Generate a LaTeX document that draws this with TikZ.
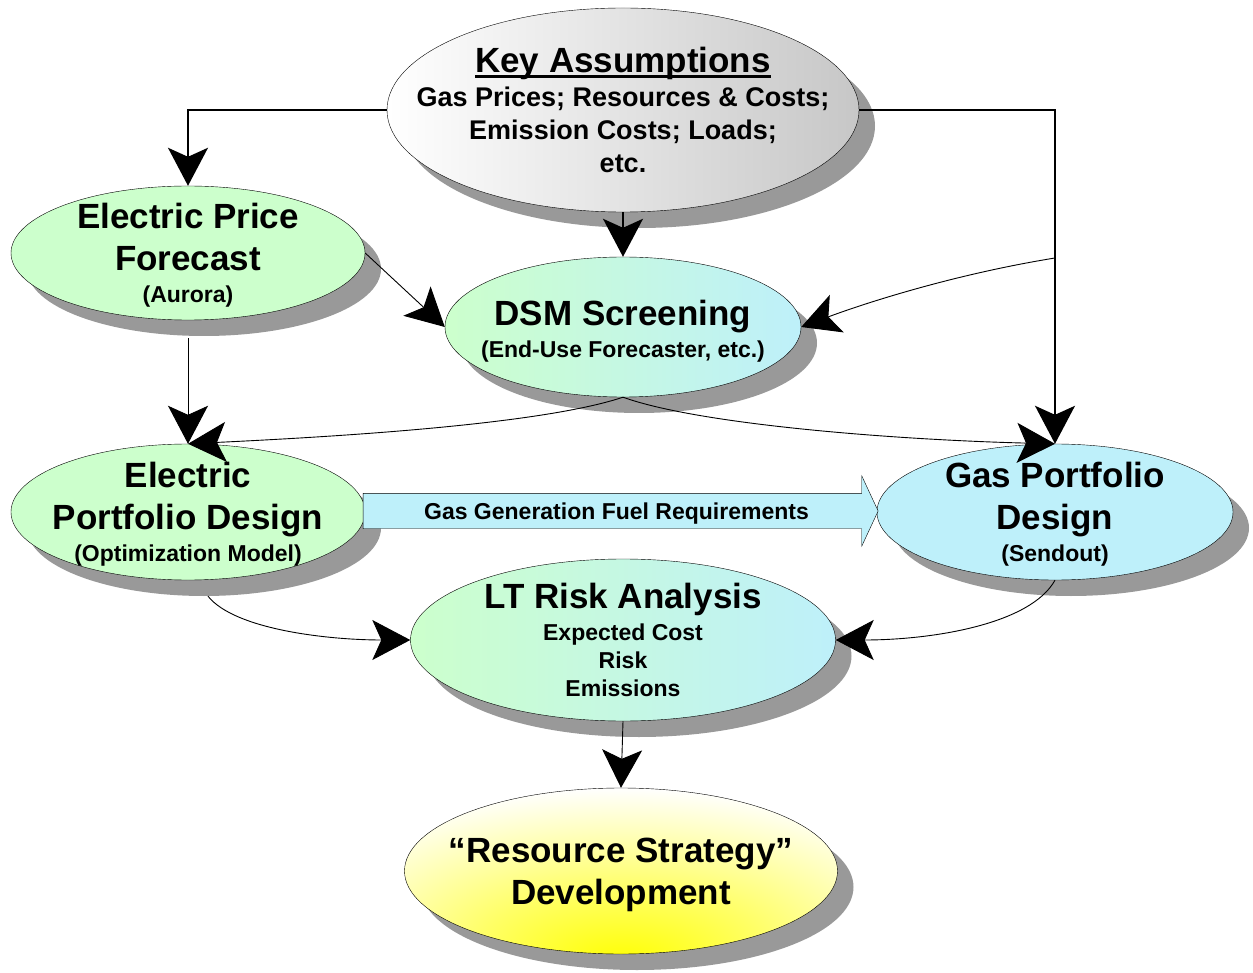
\documentclass[tikz,border=0pt]{standalone}
\usepackage{fontspec}
\setmainfont{Liberation Sans}
\usetikzlibrary{shapes.geometric,shapes.arrows,shadows,arrows.meta}

\definecolor{elgreen}{RGB}{204,255,204}
\definecolor{gascyan}{RGB}{190,240,250}
\newcommand{\bigtxt}{\fontsize{35}{42}\selectfont}
\newcommand{\smalltxt}{\fontsize{23}{28}\selectfont}
\newcommand{\midtxt}{\fontsize{27}{33}\selectfont}
% invisible strut to push a text block down
\newcommand{\topstrut}[1]{\rule{0pt}{#1}}
\newcommand{\keyline}[1]{\sbox0{#1}\rlap{\rule[-5pt]{\wd0}{2.5pt}}\usebox0}
\pgfdeclareradialshading{glow}{\pgfpoint{0bp}{-28bp}}{color(0bp)=(yellow);color(16bp)=(yellow!60!white);color(38bp)=(white);color(70bp)=(white)}

\tikzset{
  oval/.style={ellipse, draw, thin, inner sep=-150pt, align=center, font=\bfseries\bigtxt,
    general shadow={shadow xshift=16pt, shadow yshift=-16pt, fill=black!40}},
  bigtip/.style={-{Stealth[length=38pt,width=40pt,inset=9pt]}},
  elbow/.style={bigtip, line width=1.5pt},
  feed/.style={bigtip, line width=0.9pt}
}

\begin{document}
\begin{tikzpicture}[x=1pt, y=-1pt]
\useasboundingbox (0,0) rectangle (1253,973);
\node[oval, minimum width=472pt, minimum height=204pt, left color=white, right color=black!22, font=\bfseries\midtxt] (KeyA) at (623,110)
  {{\bigtxt\keyline{Key Assumptions}}\\[1pt] Gas Prices; Resources \& Costs;\\ Emission Costs; Loads;\\ etc.};
\node[oval, minimum width=354pt, minimum height=134pt, fill=elgreen] (EPF) at (188,253)
  {\topstrut{30pt}Electric Price\\ Forecast\\[-10.5pt] {\smalltxt (Aurora)}};
\node[oval, minimum width=356pt, minimum height=140pt, left color=elgreen, right color=gascyan] (DSM) at (623,327)
  {\topstrut{34pt}DSM Screening\\[-10.5pt] {\smalltxt (End-Use Forecaster, etc.)}};
\node[oval, minimum width=354pt, minimum height=136pt, fill=elgreen] (EPD) at (188,512)
  {\topstrut{30pt}Electric\\ Portfolio Design\\[-10.5pt] {\smalltxt (Optimization Model)}};
\node[oval, minimum width=356pt, minimum height=136pt, fill=gascyan] (GPD) at (1055,512)
  {\topstrut{30pt}Gas Portfolio\\ Design\\[-10.5pt] {\smalltxt (Sendout)}};
\node[oval, minimum width=425pt, minimum height=162pt, left color=elgreen, right color=gascyan] (LTR) at (623,640)
  {LT Risk Analysis\\[-10.5pt] {\smalltxt Expected Cost}\\[-14pt] {\smalltxt Risk}\\[-14pt] {\smalltxt Emissions}};
\node[oval, minimum width=433pt, minimum height=166pt, shading=glow] (RSD) at (621,871)
  {\topstrut{33pt}``Resource Strategy''\\ Development};

\node[single arrow, draw, fill=gascyan, minimum height=515pt, single arrow head extend=17.5pt,
  single arrow tip angle=130, inner xsep=2pt, inner ysep=8pt, text height=17.5pt, text depth=1.5pt,
  font=\bfseries\smalltxt] (Fuel) at (616.5,511) {Gas Generation Fuel Requirements};

\coordinate (KAL) at (188,110);
\coordinate (KAR) at (1055,110);
\coordinate (Tap) at (1055,258);
\draw[elbow] (KeyA.west) -- (KAL) -- (EPF.north);
\draw[elbow] (KeyA.east) -- (KAR) -- (GPD.north);
\draw[elbow] (KeyA.south) -- (DSM.north);
\draw[feed] (Tap) .. controls (950,275) and (860,305) .. (DSM.east);
\draw[feed] (EPF.east) -- (DSM.west);
\draw[feed] ([shift={(0,18)}]EPF.south) -- (EPD.north);
\draw[feed] (DSM.south) .. controls (540,425) and (330,437) .. (EPD.north);
\draw[feed] (DSM.south) .. controls (700,425) and (900,440) .. (GPD.north);
\draw[feed] ([shift={(20,16)}]EPD.south) .. controls (235,630) and (330,640) .. (LTR.west);
\draw[feed] (GPD.south) .. controls (1030,625) and (930,640) .. (LTR.east);
\draw[feed] (LTR.south) -- (RSD.north);
\end{tikzpicture}
\end{document}
